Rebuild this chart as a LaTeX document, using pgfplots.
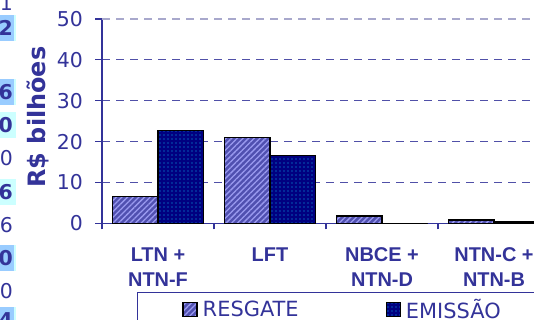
\documentclass[border=0pt]{standalone}
\usepackage{fontspec}
\setmainfont{DejaVu Sans}
\newfontfamily\lib{Liberation Sans}
\usepackage{pgfplots}
\pgfplotsset{compat=1.18}
\usetikzlibrary{patterns.meta}
\definecolor{tc}{HTML}{333399}
\definecolor{gridc}{HTML}{5050A8}
\definecolor{topgrid}{HTML}{A8A8CC}
\definecolor{resfill}{HTML}{5050B0}
\definecolor{reslines}{HTML}{9A9AF0}
\definecolor{emfill}{HTML}{000080}
\definecolor{emdots}{HTML}{10B8F0}
\definecolor{cellA}{HTML}{99CCFF}
\definecolor{cellB}{HTML}{CCFFFF}
\newcommand\boldif[1]{\ifnum#1=1 \bfseries\fi}
\begin{document}
\begin{tikzpicture}[x=1bp,y=1bp]
\useasboundingbox (0,0) rectangle (534,319);
\clip (0,0) rectangle (534,319);
% partial table column at the left edge
\foreach \cc/\col in {28/cellA,92/cellA,125/cellB,192/cellB,258/cellA,320/cellA}{
  \fill[\col] (0,{319-\cc-13}) rectangle (14,{319-\cc+13});
  \fill[cellB] (14,{319-\cc-13}) rectangle (16,{319-\cc+13});
}
\foreach \cc/\dd/\bb in {3/1/0,28/2/1,92/6/1,125/0/1,158/0/0,192/6/1,225/6/0,258/0/1,291/0/0,320/4/1}{
  \node[inner sep=0pt,anchor=base east,text=tc,font=\fontsize{20.5}{24}\selectfont\boldif{\bb}] at (13,{319-\cc-7}) {\dd};
}
\begin{axis}[
  at={(102bp,95.7bp)}, anchor=south west,
  scale only axis, width=448bp, height=204.3bp,
  xmin=-0.5, xmax=3.5, ymin=0, ymax=50,
  ybar=0pt, bar width=45.5bp,
  axis lines*=left,
  axis line style={tc, line width=1.2bp, -},
  ytick={0,10,20,30,40}, extra y ticks={50},
  extra y tick style={grid style={topgrid, dash pattern=on 8bp off 6bp, line width=1.3bp}},
  ymajorgrids,
  grid style={gridc, dash pattern=on 8bp off 6bp, line width=1.1bp},
  xtick={0,1,2,3},
  xticklabels={{LTN +\\NTN-F},{LFT},{NBCE +\\NTN-D},{NTN-C +\\NTN-B}},
  minor xtick={-0.5,0.5,1.5,2.5,3.5},
  major x tick style={draw=none},
  tick align=outside,
  major tick length=7bp, minor tick length=6bp,
  tick style={tc, line width=1.1bp},
  /pgf/number format/assume math mode=true,
  y tick label style={font=\fontsize{20.5}{24}\selectfont, text=tc, inner sep=0pt, anchor=east, xshift=-12bp},
  x tick label style={font=\lib\bfseries\fontsize{20}{25}\selectfont, text=tc, align=center, inner sep=0pt, anchor=north, yshift=-17bp},
  ylabel={R\$ bilhões},
  every axis y label/.style={at={(axis description cs:-0.144,0.52)}, rotate=90, anchor=center,
    font=\bfseries\fontsize{24}{28}\selectfont, text=tc},
  legend columns=2,
  legend image code/.code={\draw[#1] (0bp,0.5bp) rectangle (14bp,14.5bp); \path (17bp,7bp);},
  legend style={at={(axis description cs:0.078,-0.335)}, anchor=north west,
    draw=tc, line width=1bp, fill=white, text=tc,
    font=\fontsize{21}{24}\selectfont,
    inner xsep=45bp, inner ysep=5bp,
    nodes={text depth=16bp},
    /tikz/every even column/.append style={column sep=85bp}},
]
\addplot[draw=black, line width=1.3bp, preaction={fill=resfill},
  pattern={Lines[angle=45,distance=4bp,line width=1.3bp]}, pattern color=reslines]
  coordinates {(0,6.6) (1,21.0) (2,1.8) (3,0.8)};
\addplot[draw=black, line width=1.3bp, preaction={fill=emfill},
  pattern={Dots[distance=4bp,radius=0.7bp]}, pattern color=emdots]
  coordinates {(0,22.7) (1,16.6) (2,0) (3,0.3)};
\legend{RESGATE,EMISSÃO}
\end{axis}
\end{tikzpicture}
\end{document}
